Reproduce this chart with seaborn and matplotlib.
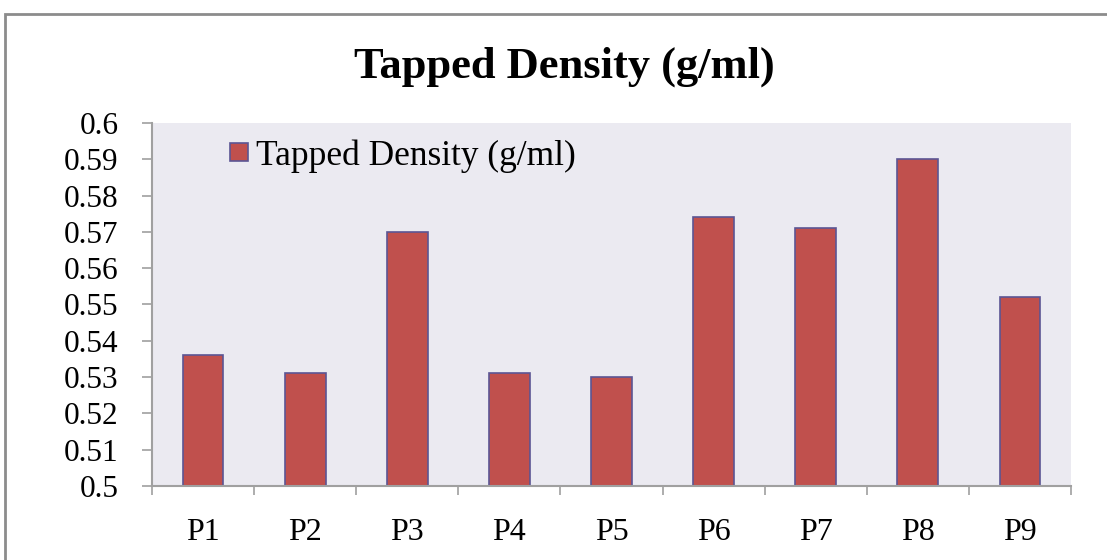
import matplotlib
matplotlib.use("Agg")
import matplotlib.pyplot as plt
from matplotlib.patches import Rectangle
import seaborn as sns
import pandas as pd
import numpy as np

# Formulation batches and their tapped density
batches = ["P1", "P2", "P3", "P4", "P5", "P6", "P7", "P8", "P9"]
tapped_density = [0.536, 0.531, 0.570, 0.531, 0.530, 0.574, 0.571, 0.590, 0.552]
series_name = "Tapped Density (g/ml)"
y_ticks = [0.5, 0.51, 0.52, 0.53, 0.54, 0.55, 0.56, 0.57, 0.58, 0.59, 0.6]
y_tick_labels = ["0.5", "0.51", "0.52", "0.53", "0.54", "0.55", "0.56", "0.57", "0.58", "0.59", "0.6"]

sns.set_style("dark", {"axes.facecolor": "#EBEAF1"})
plt.rcParams["font.family"] = ["Liberation Serif", "DejaVu Serif"]
plt.rcParams["text.color"] = "black"

df = pd.DataFrame({"batch": batches, "density": tapped_density})

fig = plt.figure(figsize=(11.07, 5.6), dpi=100)
ax = fig.add_axes([152 / 1107, 1 - 486 / 560, 919 / 1107, 363 / 560])

sns.barplot(data=df, x="batch", y="density", color="#C0504D", saturation=1,
            width=0.4, edgecolor="#5B5694", linewidth=1.2, label=series_name, ax=ax)

ax.set_ylim(0.5, 0.6)
ax.set_xlim(-0.5, len(batches) - 0.5)
ax.set_yticks(y_ticks)
ax.set_yticklabels(y_tick_labels)
ax.set_xlabel("")
ax.set_ylabel("")
ax.grid(False)

for side in ("top", "right"):
    ax.spines[side].set_visible(False)
for side in ("left", "bottom"):
    ax.spines[side].set_visible(True)
    ax.spines[side].set_color("#A0A0A0")
    ax.spines[side].set_linewidth(1.5)

# y ticks outward; x ticks sit on the category boundaries
ax.tick_params(axis="y", which="major", direction="out", length=7, width=1.2,
               color="#A0A0A0", pad=17, labelsize=22.5, labelcolor="black", left=True)
ax.set_xticks(np.arange(-0.5, len(batches), 1.0), minor=True)
ax.tick_params(axis="x", which="minor", direction="out", length=6.5, width=1.2,
               color="#A0A0A0", bottom=True)
ax.tick_params(axis="x", which="major", length=0, pad=23, labelsize=23, labelcolor="black")

leg = ax.legend(loc="center left", bbox_to_anchor=(78 / 919, (486 - 156) / 363),
                frameon=False, fontsize=25.5, borderpad=0, borderaxespad=0,
                handlelength=0.5, handleheight=0.42, handletextpad=0.22,
                labelcolor="black")

fig.text(564 / 1107, 1 - 78 / 560, series_name, ha="center", va="baseline",
         fontsize=32, fontweight="bold", color="black")

# outer chart border
fig.patches.append(Rectangle((5 / 1107, -0.5), 1.5, 0.5 + 1 - 14 / 560,
                             transform=fig.transFigure, fill=False,
                             edgecolor="#8C8C8C", linewidth=2, zorder=0))

fig.savefig("out.png", dpi=100)
